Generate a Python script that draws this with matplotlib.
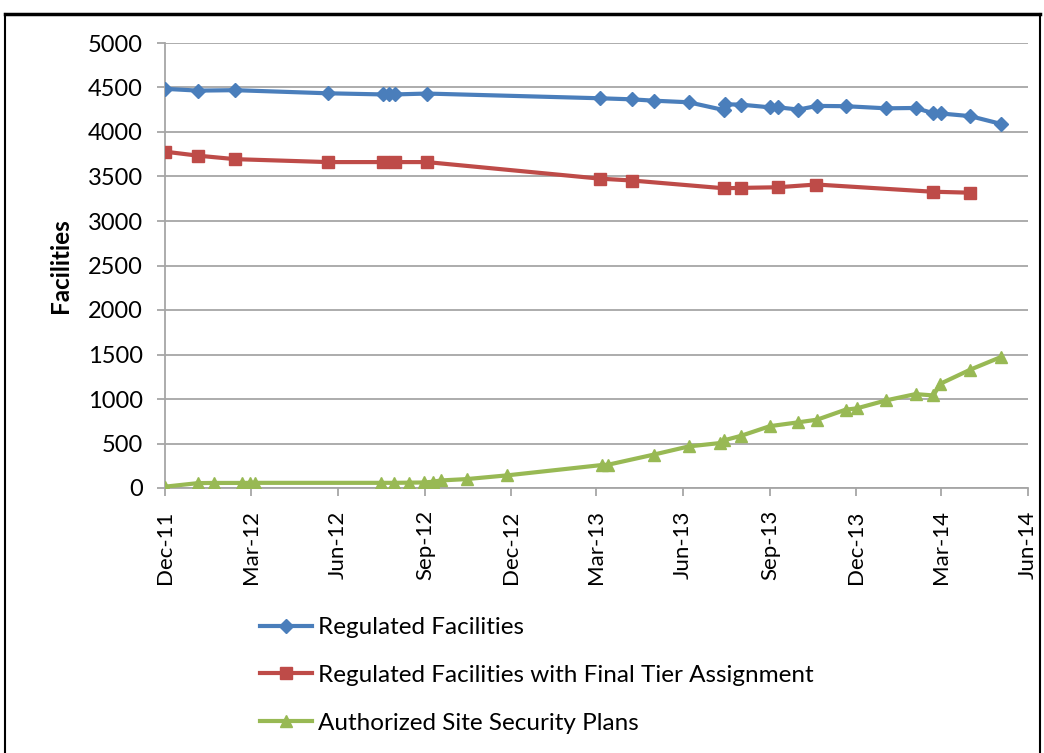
import matplotlib
matplotlib.use("Agg")
import matplotlib.pyplot as plt
import matplotlib.dates as mdates
from matplotlib.lines import Line2D
import pandas as pd

# ---- data ----
reg_dates = ["2011-12-01", "2012-01-05", "2012-02-13", "2012-05-21", "2012-07-19", "2012-07-25",
             "2012-07-31", "2012-09-03", "2013-03-05", "2013-04-08", "2013-05-01", "2013-06-07",
             "2013-07-14", "2013-07-15", "2013-08-01", "2013-09-01", "2013-09-10", "2013-10-01",
             "2013-10-21", "2013-11-20", "2014-01-02", "2014-02-02", "2014-02-21", "2014-03-01",
             "2014-04-01", "2014-05-03"]
reg_values = [4485, 4465, 4470, 4435, 4422, 4422, 4422, 4432, 4379, 4367, 4352, 4334,
              4247, 4311, 4308, 4277, 4277, 4252, 4293, 4290, 4266, 4270, 4210, 4208,
              4178, 4092]

tier_dates = ["2011-12-01", "2012-01-05", "2012-02-13", "2012-05-21", "2012-07-19", "2012-07-31",
              "2012-09-03", "2013-03-05", "2013-04-08", "2013-07-14", "2013-08-01", "2013-09-09",
              "2013-10-20", "2014-02-20", "2014-04-01"]
tier_values = [3779, 3734, 3695, 3662, 3662, 3662, 3662, 3476, 3455, 3368, 3372, 3379,
               3410, 3329, 3318]

ssp_dates = ["2011-12-01", "2012-01-05", "2012-01-22", "2012-02-20", "2012-02-29", "2012-03-05",
             "2012-07-16", "2012-07-30", "2012-08-15", "2012-08-31", "2012-09-09", "2012-09-18",
             "2012-10-15", "2012-11-27", "2013-03-07", "2013-03-14", "2013-05-01", "2013-06-07",
             "2013-07-10", "2013-07-14", "2013-08-01", "2013-09-01", "2013-10-01", "2013-10-21",
             "2013-11-20", "2013-12-02", "2014-01-02", "2014-02-02", "2014-02-21", "2014-02-28",
             "2014-04-01", "2014-05-03"]
ssp_values = [15, 55, 57, 57, 58, 58, 58, 58, 60, 62, 70, 85,
              100, 142, 258, 262, 375, 467, 505, 535, 585, 695, 738, 768,
              880, 895, 985, 1055, 1040, 1170, 1330, 1470]

series_labels = ["Regulated Facilities",
                 "Regulated Facilities with Final Tier Assignment",
                 "Authorized Site Security Plans"]
y_label = "Facilities"

# ---- figure ----
plt.rcParams['font.family'] = ['Lato', 'DejaVu Sans']
W, H = 1044, 753
fig = plt.figure(figsize=(W / 100, H / 100), dpi=100)
fig.patch.set_facecolor("white")

left, right, top, bottom = 165, 1028, 43, 488
ax = fig.add_axes([left / W, 1 - bottom / H, (right - left) / W, (bottom - top) / H])

blue, red, green = "#4a7ebb", "#be4b48", "#98b954"
lw = 3.0
ax.plot(pd.to_datetime(reg_dates), reg_values, color=blue, lw=lw, marker="D",
        markersize=7, label=series_labels[0], zorder=3)
ax.plot(pd.to_datetime(tier_dates), tier_values, color=red, lw=lw, marker="s",
        markersize=9, label=series_labels[1], zorder=3)
ax.plot(pd.to_datetime(ssp_dates), ssp_values, color=green, lw=lw, marker="^",
        markersize=9, label=series_labels[2], zorder=3)

ax.set_xlim(pd.Timestamp("2011-12-01"), pd.Timestamp("2014-06-01"))
ax.set_ylim(0, 5000)
ax.set_yticks(range(0, 5001, 500))
ax.xaxis.set_major_locator(mdates.MonthLocator(bymonth=[3, 6, 9, 12]))
ax.xaxis.set_major_formatter(mdates.DateFormatter("%b-%y"))

grid_c = "#a6a6a6"
ax.grid(axis="y", color=grid_c, lw=1.3)
ax.set_axisbelow(True)
for s in ["top", "right"]:
    ax.spines[s].set_visible(False)
for s in ["left", "bottom"]:
    ax.spines[s].set_color(grid_c)
    ax.spines[s].set_linewidth(1.3)
ax.tick_params(axis="both", colors=grid_c, length=6, width=1.3, labelcolor="black")
ax.tick_params(axis="x", labelrotation=90, pad=10, labelsize=16)
ax.tick_params(axis="y", pad=10, labelsize=17)
ax.set_ylabel(y_label, fontsize=17.5, fontweight="bold", labelpad=11)

handles, labels = ax.get_legend_handles_labels()
fig.legend(handles, labels, loc="upper left", bbox_to_anchor=(260 / W, 1 - 617 / H),
           frameon=False, fontsize=17.5, handlelength=2.14, labelspacing=1.1,
           handletextpad=0.25, borderaxespad=0, borderpad=0)

# outer chart frame (partially visible)
fig.add_artist(Line2D([5 / W, 1040 / W], [1 - 14 / H, 1 - 14 / H], color="black", lw=2.5,
                      transform=fig.transFigure))
fig.add_artist(Line2D([5 / W, 5 / W], [1 - 14 / H, 0], color="black", lw=1.5,
                      transform=fig.transFigure))
fig.add_artist(Line2D([1040 / W, 1040 / W], [1 - 14 / H, 0], color="black", lw=1.5,
                      transform=fig.transFigure))

fig.savefig("out.png", dpi=100)
